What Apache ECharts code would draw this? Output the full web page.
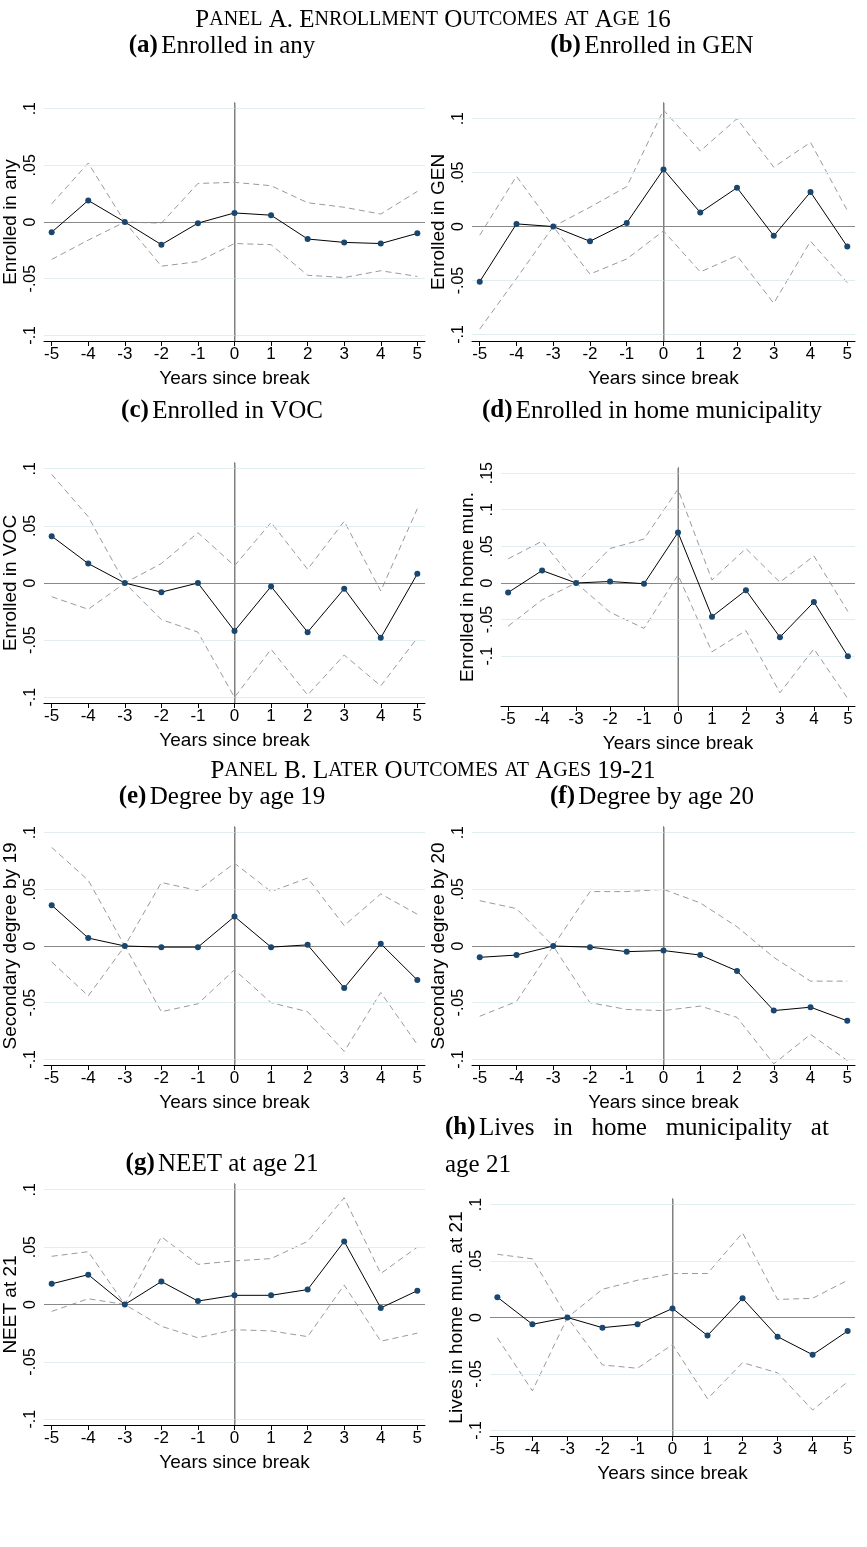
<!DOCTYPE html>
<html><head><meta charset="utf-8">
<script src="https://cdn.jsdelivr.net/npm/echarts@6/dist/echarts.min.js"></script>
<style>html,body{margin:0;padding:0;background:#fff}#mybox{width:867px;height:1547px}</style>
</head><body><div id="mybox"></div>
<script>
// event time, years since break
var years = [-5, -4, -3, -2, -1, 0, 1, 2, 3, 4, 5];

// (a) Enrolled in any
var anyPt = [-0.009, 0.019, 0, -0.020, -0.001, 0.008, 0.006, -0.015, -0.018, -0.019, -0.010];
var anyHi = [0.016, 0.052, 0, -0.001, 0.034, 0.035, 0.032, 0.017, 0.013, 0.007, 0.027];
var anyLo = [-0.033, -0.016, 0, -0.039, -0.035, -0.019, -0.020, -0.047, -0.049, -0.043, -0.048];
// (b) Enrolled in GEN
var genPt = [-0.051, 0.0025, 0, -0.0136, 0.0034, 0.053, 0.013, 0.036, -0.0086, 0.032, -0.0185];
var genHi = [-0.008, 0.0466, 0, 0.018, 0.037, 0.108, 0.070, 0.100, 0.055, 0.078, 0.015];
var genLo = [-0.095, -0.048, 0, -0.044, -0.030, -0.004, -0.042, -0.027, -0.071, -0.0136, -0.052];
// (c) Enrolled in VOC
var vocPt = [0.041, 0.017, 0, -0.008, 0, -0.042, -0.003, -0.043, -0.005, -0.048, 0.008];
var vocHi = [0.095, 0.058, 0, 0.017, 0.044, 0.015, 0.053, 0.012, 0.054, -0.007, 0.065];
var vocLo = [-0.012, -0.023, 0, -0.032, -0.043, -0.100, -0.058, -0.098, -0.063, -0.090, -0.048];
// (d) Enrolled in home municipality
var homPt = [-0.013, 0.017, 0, 0.002, -0.001, 0.069, -0.046, -0.010, -0.074, -0.026, -0.100];
var homHi = [0.033, 0.057, 0, 0.047, 0.060, 0.128, 0.004, 0.047, 0.001, 0.037, -0.039];
var homLo = [-0.059, -0.023, 0, -0.040, -0.062, 0.011, -0.094, -0.065, -0.150, -0.090, -0.158];
// (e) Degree by age 19
var d19Pt = [0.036, 0.007, 0, -0.001, -0.001, 0.026, -0.001, 0.001, -0.037, 0.002, -0.030];
var d19Hi = [0.087, 0.058, 0, 0.056, 0.049, 0.073, 0.048, 0.060, 0.018, 0.046, 0.028];
var d19Lo = [-0.014, -0.044, 0, -0.058, -0.051, -0.021, -0.050, -0.058, -0.093, -0.041, -0.087];
// (f) Degree by age 20
var d20Pt = [-0.010, -0.008, 0, -0.001, -0.005, -0.004, -0.008, -0.022, -0.057, -0.054, -0.066];
var d20Hi = [0.040, 0.033, 0, 0.048, 0.048, 0.050, 0.038, 0.017, -0.010, -0.031, -0.031];
var d20Lo = [-0.062, -0.049, 0, -0.050, -0.056, -0.057, -0.053, -0.063, -0.104, -0.078, -0.101];
// (g) NEET at age 21
var neetPt = [0.018, 0.026, 0, 0.020, 0.003, 0.008, 0.008, 0.013, 0.055, -0.003, 0.012];
var neetHi = [0.042, 0.046, 0, 0.059, 0.035, 0.038, 0.040, 0.055, 0.093, 0.027, 0.050];
var neetLo = [-0.006, 0.005, 0, -0.019, -0.029, -0.022, -0.023, -0.028, 0.017, -0.032, -0.025];
// (h) Lives in home municipality at 21
var livPt = [0.018, -0.006, 0, -0.009, -0.006, 0.008, -0.016, 0.017, -0.017, -0.033, -0.012];
var livHi = [0.056, 0.052, 0, 0.025, 0.033, 0.039, 0.039, 0.075, 0.016, 0.017, 0.033];
var livLo = [-0.018, -0.065, 0, -0.042, -0.045, -0.024, -0.072, -0.040, -0.049, -0.082, -0.057];

// y tick labels
var ticks10 = [-0.1, -0.05, 0, 0.05, 0.1];
var ticks15 = [-0.1, -0.05, 0, 0.05, 0.1, 0.15];
function fmt(v) {
    if (v === 0) return '0';
    var s = String(Math.round(v * 100) / 100);
    return s.replace('0.', '.');
}

var panels = [
    { name: 'Enrolled in any', pt: anyPt, hi: anyHi, lo: anyLo, ticks: ticks10, min: -0.105, max: 0.105, left: 40, top: 103, h: 238 },
    { name: 'Enrolled in GEN', pt: genPt, hi: genHi, lo: genLo, ticks: ticks10, min: -0.106, max: 0.1145, left: 472, top: 103, h: 238 },
    { name: 'Enrolled in VOC', pt: vocPt, hi: vocHi, lo: vocLo, ticks: ticks10, min: -0.105, max: 0.105, left: 40, top: 463, h: 240 },
    { name: 'Enrolled in home mun.', pt: homPt, hi: homHi, lo: homLo, ticks: ticks15, min: -0.168, max: 0.157, left: 501, top: 468, h: 238 },
    { name: 'Secondary degree by 19', pt: d19Pt, hi: d19Hi, lo: d19Lo, ticks: ticks10, min: -0.105, max: 0.105, left: 40, top: 827, h: 238 },
    { name: 'Secondary degree by 20', pt: d20Pt, hi: d20Hi, lo: d20Lo, ticks: ticks10, min: -0.105, max: 0.105, left: 472, top: 827, h: 238 },
    { name: 'NEET at 21', pt: neetPt, hi: neetHi, lo: neetLo, ticks: ticks10, min: -0.105, max: 0.105, left: 40, top: 1184, h: 241 },
    { name: 'Lives in home mun. at 21', pt: livPt, hi: livHi, lo: livLo, ticks: ticks10, min: -0.105, max: 0.105, left: 490, top: 1199, h: 237 }
];

function pairs(arr) {
    return years.map(function (x, i) { return [x, arr[i]]; });
}

var grids = [], xAxes = [], yAxes = [], series = [];
panels.forEach(function (p, i) {
    var rightEdge = p.left < 200 ? 425 : 855;
    grids.push({ left: p.left, top: p.top, width: rightEdge - p.left, height: p.h });
    xAxes.push({
        gridIndex: i, type: 'value', min: -5.21, max: 5.21,
        name: 'Years since break', nameLocation: 'middle', nameGap: 28,
        nameTextStyle: { fontFamily: 'Liberation Sans', fontSize: 19, color: '#000' },
        axisLine: { onZero: false, lineStyle: { color: '#000' } },
        axisTick: { customValues: years, length: 5, lineStyle: { color: '#000' } },
        axisLabel: { customValues: years, fontFamily: 'Liberation Sans', fontSize: 17, color: '#000', margin: 5 },
        splitLine: { show: false }
    });
    yAxes.push({
        gridIndex: i, type: 'value', min: p.min, max: p.max,
        name: p.name, nameLocation: 'middle', nameGap: 24, nameRotate: 90,
        nameTextStyle: { fontFamily: 'Liberation Sans', fontSize: 19, color: '#000' },
        axisLine: { show: true, lineStyle: { color: '#000' } },
        axisTick: { show: true, customValues: p.ticks, length: 5, lineStyle: { color: '#000' } },
        axisLabel: { customValues: p.ticks, rotate: 90, formatter: fmt, fontFamily: 'Liberation Sans', fontSize: 16, color: '#000', margin: 5 },
        splitLine: { show: false }
    });
    var gridLines = p.ticks.filter(function (v) { return v !== 0; }).map(function (v) {
        return { yAxis: v, lineStyle: { color: '#e0eef0', width: 1, type: 'solid' } };
    });
    series.push({
        type: 'line', xAxisIndex: i, yAxisIndex: i, data: pairs(p.hi), symbol: 'none', silent: true,
        lineStyle: { color: '#9a9a9a', width: 1, type: [6, 4] }, z: 3,
        markLine: {
            silent: true, symbol: 'none', label: { show: false }, animation: false,
            data: gridLines.concat([
                { xAxis: 0, lineStyle: { color: '#aaaaaa', width: 1.5, type: 'solid' } },
                { yAxis: 0, lineStyle: { color: '#888888', width: 1, type: 'solid' } }
            ])
        }
    });
    series.push({
        type: 'line', xAxisIndex: i, yAxisIndex: i, data: pairs(p.lo), symbol: 'none', silent: true,
        lineStyle: { color: '#9a9a9a', width: 1, type: [6, 4] }, z: 3
    });
    series.push({
        type: 'line', xAxisIndex: i, yAxisIndex: i, data: pairs(p.pt), symbol: 'circle', symbolSize: 6,
        itemStyle: { color: '#1a476f' }, lineStyle: { color: '#000', width: 1 }, z: 5
    });
});

var serif = 'Liberation Serif';
var subRich = {
    b: { fontFamily: serif, fontSize: 25, fontWeight: 'bold', fill: '#000' },
    n: { fontFamily: serif, fontSize: 25, fill: '#000' }
};
function subTitle(letter, text, cx, y) {
    return {
        type: 'text', x: cx, y: y,
        style: {
            text: '{b|(' + letter + ')} {n|' + text + '}', align: 'center', verticalAlign: 'middle',
            rich: subRich
        }
    };
}
function panelHead(text, y) {
    // small caps: first letters big, rest small uppercase
    var parts = text.split(' ').map(function (w) {
        var first = w.charAt(0), rest = w.slice(1);
        if (/[A-Z]/.test(first) && rest && /^[a-z]/.test(rest)) {
            return '{c|' + first + '}{s|' + rest.toUpperCase() + '}';
        }
        if (/^[a-z]+$/.test(w)) return '{s|' + w.toUpperCase() + '}';
        return '{c|' + w + '}';
    });
    return {
        type: 'text', x: 433, y: y,
        style: {
            text: parts.join('{c| }'), align: 'center', verticalAlign: 'middle',
            rich: {
                c: { fontFamily: serif, fontSize: 25, fill: '#000' },
                s: { fontFamily: serif, fontSize: 20, fill: '#000' }
            }
        }
    };
}

var graphics = [
    panelHead('Panel A. Enrollment Outcomes at Age 16', 20),
    subTitle('a', 'Enrolled in any', 222, 46),
    subTitle('b', 'Enrolled in GEN', 652, 46),
    subTitle('c', 'Enrolled in VOC', 222, 411),
    subTitle('d', 'Enrolled in home municipality', 652, 411),
    panelHead('Panel B. Later Outcomes at Ages 19-21', 771),
    subTitle('e', 'Degree by age 19', 222, 797),
    subTitle('f', 'Degree by age 20', 652, 797),
    subTitle('g', 'NEET at age 21', 222, 1164),
    {
        type: 'text', x: 445, y: 1128,
        style: {
            text: '{b|(h)} {n|Lives   in   home   municipality   at}', verticalAlign: 'middle',
            rich: subRich
        }
    },
    {
        type: 'text', x: 445, y: 1165,
        style: { text: 'age 21', verticalAlign: 'middle', font: '25px ' + serif, fill: '#000' }
    }
];

var mycharts = echarts.init(document.getElementById('mybox'));
mycharts.setOption({
    animation: false,
    backgroundColor: '#fff',
    grid: grids,
    xAxis: xAxes,
    yAxis: yAxes,
    series: series,
    graphic: graphics
});
</script>
</body></html>
